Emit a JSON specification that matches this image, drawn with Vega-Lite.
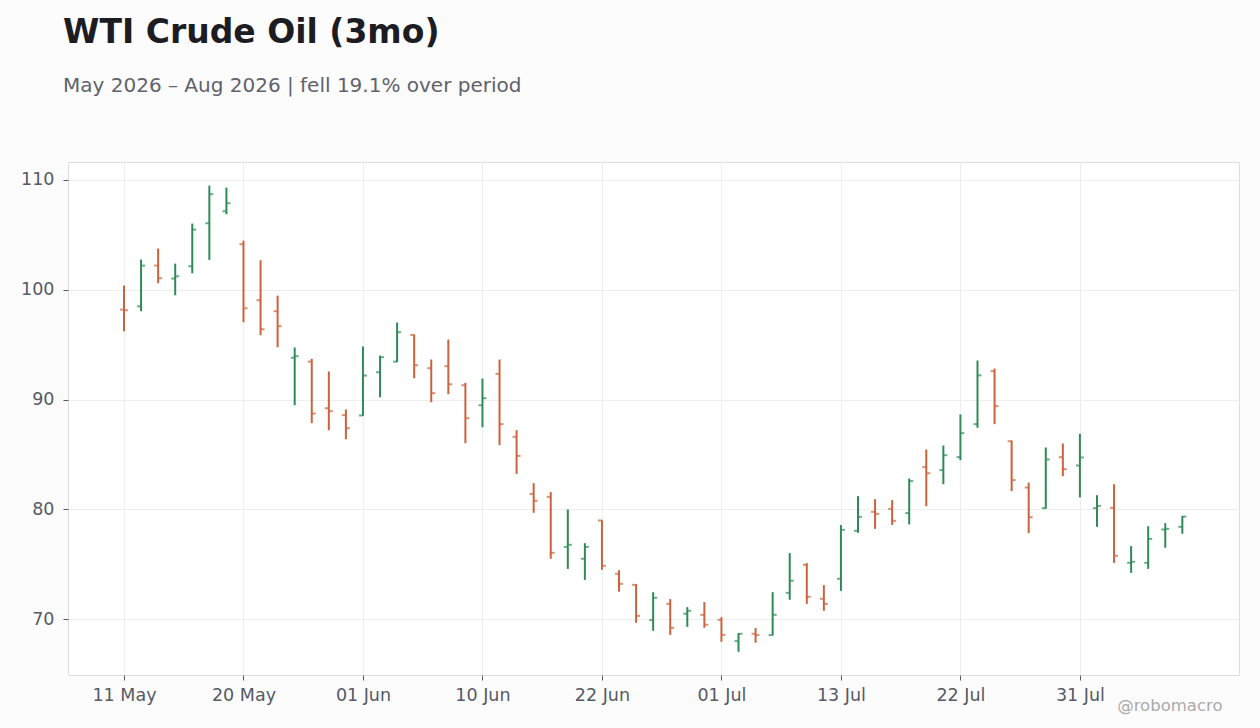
{
  "$schema": "https://vega.github.io/schema/vega-lite/v6.json",
  "description": "WTI Crude Oil (3mo) OHLC bars, trading days May-Aug 2026",
  "width": 1171,
  "height": 513,
  "autosize": {"type": "none"},
  "padding": {"left": 68, "top": 162, "right": 21, "bottom": 53},
  "background": "#fcfcfd",
  "config": {
    "font": "DejaVu Sans",
    "view": {"stroke": "#dcdde3", "fill": "#ffffff"}
  },
  "title": {
    "text": "WTI Crude Oil (3mo)",
    "subtitle": "May 2026 – Aug 2026 | fell 19.1% over period",
    "anchor": "start",
    "frame": "group",
    "dx": -5,
    "offset": 66,
    "font": "DejaVu Sans",
    "fontSize": 33,
    "fontWeight": "bold",
    "color": "#1c1c22",
    "subtitleFont": "DejaVu Sans",
    "subtitleFontSize": 20,
    "subtitleColor": "#5f626b",
    "subtitlePadding": 26
  },
  "data": {
    "values": [
      {"date": "2026-05-11", "i": 0, "o": 98.18, "h": 100.36, "l": 96.21, "c": 98.12},
      {"date": "2026-05-12", "i": 1, "o": 98.48, "h": 102.73, "l": 98.03, "c": 102.18},
      {"date": "2026-05-13", "i": 2, "o": 102.18, "h": 103.73, "l": 100.58, "c": 101.03},
      {"date": "2026-05-14", "i": 3, "o": 101.0, "h": 102.36, "l": 99.48, "c": 101.21},
      {"date": "2026-05-15", "i": 4, "o": 102.12, "h": 106.0, "l": 101.48, "c": 105.45},
      {"date": "2026-05-18", "i": 5, "o": 106.03, "h": 109.45, "l": 102.7, "c": 108.67},
      {"date": "2026-05-19", "i": 6, "o": 107.12, "h": 109.27, "l": 106.85, "c": 107.85},
      {"date": "2026-05-20", "i": 7, "o": 104.12, "h": 104.45, "l": 97.03, "c": 98.3},
      {"date": "2026-05-21", "i": 8, "o": 99.03, "h": 102.67, "l": 95.85, "c": 96.39},
      {"date": "2026-05-22", "i": 9, "o": 98.03, "h": 99.45, "l": 94.76, "c": 96.67},
      {"date": "2026-05-26", "i": 10, "o": 93.8, "h": 94.73, "l": 89.48, "c": 93.94},
      {"date": "2026-05-27", "i": 11, "o": 93.45, "h": 93.7, "l": 87.85, "c": 88.73},
      {"date": "2026-05-28", "i": 12, "o": 89.21, "h": 92.55, "l": 87.21, "c": 88.94},
      {"date": "2026-05-29", "i": 13, "o": 88.58, "h": 89.09, "l": 86.39, "c": 87.39},
      {"date": "2026-06-01", "i": 14, "o": 88.55, "h": 94.82, "l": 88.52, "c": 92.18},
      {"date": "2026-06-02", "i": 15, "o": 92.48, "h": 94.0, "l": 90.21, "c": 93.85},
      {"date": "2026-06-03", "i": 16, "o": 93.45, "h": 97.0, "l": 93.4, "c": 96.12},
      {"date": "2026-06-04", "i": 17, "o": 95.88, "h": 95.91, "l": 91.94, "c": 93.12},
      {"date": "2026-06-05", "i": 18, "o": 92.85, "h": 93.64, "l": 89.76, "c": 90.58},
      {"date": "2026-06-08", "i": 19, "o": 93.03, "h": 95.45, "l": 90.48, "c": 91.39},
      {"date": "2026-06-09", "i": 20, "o": 91.3, "h": 91.52, "l": 86.03, "c": 88.3},
      {"date": "2026-06-10", "i": 21, "o": 89.48, "h": 91.91, "l": 87.48, "c": 90.12},
      {"date": "2026-06-11", "i": 22, "o": 92.33, "h": 93.64, "l": 85.85, "c": 87.76},
      {"date": "2026-06-12", "i": 23, "o": 86.61, "h": 87.21, "l": 83.24, "c": 84.88},
      {"date": "2026-06-15", "i": 24, "o": 81.42, "h": 82.39, "l": 79.7, "c": 80.79},
      {"date": "2026-06-16", "i": 25, "o": 81.15, "h": 81.58, "l": 75.52, "c": 76.06},
      {"date": "2026-06-17", "i": 26, "o": 76.6, "h": 80.0, "l": 74.6, "c": 76.79},
      {"date": "2026-06-18", "i": 27, "o": 75.52, "h": 76.94, "l": 73.6, "c": 76.6},
      {"date": "2026-06-22", "i": 28, "o": 79.0, "h": 79.03, "l": 74.52, "c": 74.88},
      {"date": "2026-06-23", "i": 29, "o": 74.15, "h": 74.48, "l": 72.52, "c": 73.24},
      {"date": "2026-06-24", "i": 30, "o": 73.15, "h": 73.21, "l": 69.7, "c": 70.33},
      {"date": "2026-06-25", "i": 31, "o": 69.94, "h": 72.48, "l": 68.97, "c": 71.97},
      {"date": "2026-06-26", "i": 32, "o": 71.42, "h": 71.85, "l": 68.6, "c": 69.24},
      {"date": "2026-06-29", "i": 33, "o": 70.52, "h": 71.12, "l": 69.33, "c": 70.79},
      {"date": "2026-06-30", "i": 34, "o": 70.42, "h": 71.58, "l": 69.24, "c": 69.52},
      {"date": "2026-07-01", "i": 35, "o": 69.97, "h": 70.21, "l": 67.97, "c": 68.6},
      {"date": "2026-07-02", "i": 36, "o": 68.03, "h": 68.76, "l": 67.06, "c": 68.7},
      {"date": "2026-07-06", "i": 37, "o": 68.7, "h": 69.21, "l": 67.88, "c": 68.58},
      {"date": "2026-07-07", "i": 38, "o": 68.58, "h": 72.48, "l": 68.55, "c": 70.42},
      {"date": "2026-07-08", "i": 39, "o": 72.42, "h": 76.03, "l": 71.79, "c": 73.52},
      {"date": "2026-07-09", "i": 40, "o": 74.97, "h": 75.12, "l": 71.42, "c": 72.06},
      {"date": "2026-07-10", "i": 41, "o": 71.88, "h": 73.12, "l": 70.79, "c": 71.42},
      {"date": "2026-07-13", "i": 42, "o": 73.7, "h": 78.58, "l": 72.6, "c": 78.15},
      {"date": "2026-07-14", "i": 43, "o": 78.06, "h": 81.21, "l": 77.88, "c": 79.33},
      {"date": "2026-07-15", "i": 44, "o": 79.79, "h": 80.94, "l": 78.24, "c": 79.6},
      {"date": "2026-07-16", "i": 45, "o": 80.06, "h": 80.85, "l": 78.6, "c": 78.97},
      {"date": "2026-07-17", "i": 46, "o": 79.67, "h": 82.82, "l": 78.64, "c": 82.58},
      {"date": "2026-07-20", "i": 47, "o": 83.85, "h": 85.45, "l": 80.3, "c": 83.3},
      {"date": "2026-07-21", "i": 48, "o": 83.58, "h": 85.82, "l": 82.3, "c": 84.94},
      {"date": "2026-07-22", "i": 49, "o": 84.76, "h": 88.64, "l": 84.48, "c": 86.94},
      {"date": "2026-07-23", "i": 50, "o": 87.76, "h": 93.55, "l": 87.43, "c": 92.2},
      {"date": "2026-07-24", "i": 51, "o": 92.58, "h": 92.82, "l": 87.76, "c": 89.4},
      {"date": "2026-07-27", "i": 52, "o": 86.21, "h": 86.27, "l": 81.67, "c": 82.67},
      {"date": "2026-07-28", "i": 53, "o": 82.0, "h": 82.45, "l": 77.85, "c": 79.3},
      {"date": "2026-07-29", "i": 54, "o": 80.12, "h": 85.64, "l": 80.06, "c": 84.55},
      {"date": "2026-07-30", "i": 55, "o": 84.76, "h": 86.0, "l": 83.03, "c": 83.67},
      {"date": "2026-07-31", "i": 56, "o": 84.0, "h": 86.88, "l": 81.1, "c": 84.73},
      {"date": "2026-08-03", "i": 57, "o": 80.12, "h": 81.3, "l": 78.42, "c": 80.33},
      {"date": "2026-08-04", "i": 58, "o": 80.15, "h": 82.3, "l": 75.15, "c": 75.79},
      {"date": "2026-08-05", "i": 59, "o": 75.15, "h": 76.67, "l": 74.24, "c": 75.24},
      {"date": "2026-08-06", "i": 60, "o": 75.15, "h": 78.48, "l": 74.6, "c": 77.33},
      {"date": "2026-08-07", "i": 61, "o": 78.18, "h": 78.76, "l": 76.52, "c": 78.24},
      {"date": "2026-08-10", "i": 62, "o": 78.42, "h": 79.42, "l": 77.79, "c": 79.35}
    ]
  },
  "encoding": {
    "x": {
      "field": "i",
      "type": "quantitative",
      "scale": {"domain": [-3.28, 65.32], "nice": false, "zero": false},
      "axis": {
        "values": [0, 7, 14, 21, 28, 35, 42, 49, 56],
        "labelExpr": "['11 May','20 May','01 Jun','10 Jun','22 Jun','01 Jul','13 Jul','22 Jul','31 Jul'][round(datum.value / 7)]",
        "domain": false,
        "grid": true,
        "gridColor": "#eeeeee",
        "tickColor": "#555a64",
        "tickSize": 5,
        "labelPadding": 6,
        "labelFontSize": 17.5,
        "labelColor": "#555a64",
        "title": "@robomacro",
        "titleFontSize": 16.5,
        "titleFontWeight": "normal",
        "titleColor": "#aaaaaa",
        "titleAlign": "right",
        "titleBaseline": "alphabetic",
        "titleX": 1154,
        "titleY": 35
      }
    },
    "color": {
      "condition": {"test": "datum.c >= datum.o", "value": "#2e8b57"},
      "value": "#cc623c"
    }
  },
  "layer": [
    {
      "mark": {"type": "rule", "strokeWidth": 2},
      "encoding": {
        "y": {
          "field": "l",
          "type": "quantitative",
          "scale": {"domain": [64.95, 111.6], "nice": false, "zero": false},
          "axis": {
            "values": [70, 80, 90, 100, 110],
            "title": null,
            "domain": false,
            "grid": true,
            "gridColor": "#eeeeee",
            "tickColor": "#555a64",
            "tickSize": 5,
            "labelPadding": 9,
            "labelFontSize": 17.5,
            "labelColor": "#555a64"
          }
        },
        "y2": {"field": "h"}
      }
    },
    {
      "mark": {"type": "tick", "orient": "horizontal", "size": 4, "thickness": 2, "xOffset": -2},
      "encoding": {"y": {"field": "o", "type": "quantitative"}}
    },
    {
      "mark": {"type": "tick", "orient": "horizontal", "size": 4, "thickness": 2, "xOffset": 2},
      "encoding": {"y": {"field": "c", "type": "quantitative"}}
    }
  ]
}
